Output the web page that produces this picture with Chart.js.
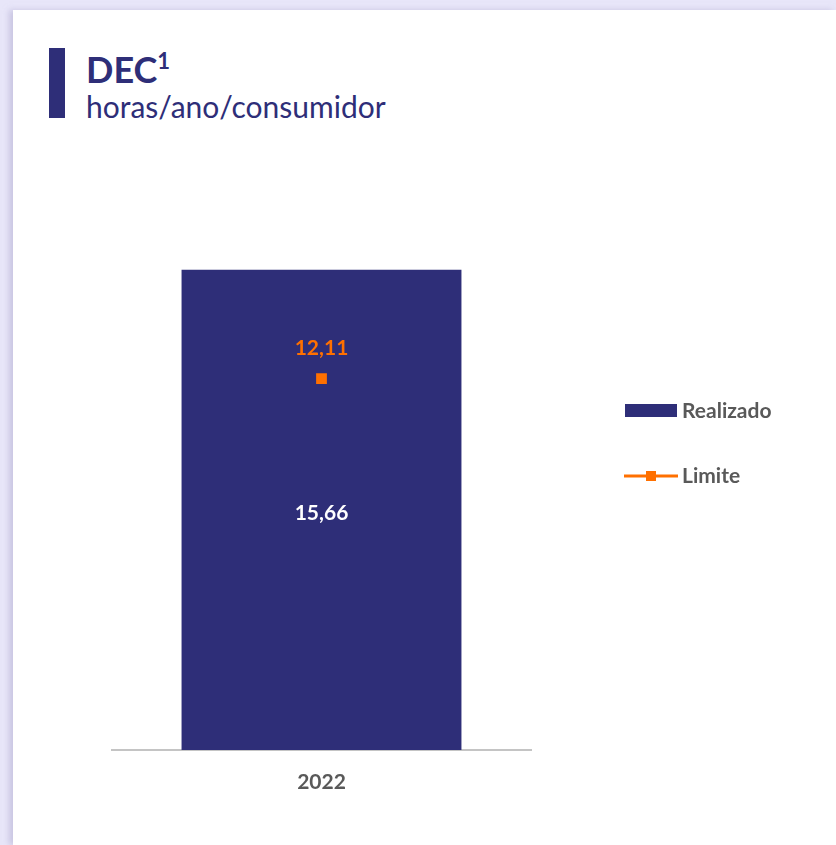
<!DOCTYPE html>
<html>
<head>
<meta charset="utf-8">
<script src="https://cdn.jsdelivr.net/npm/chart.js@4.4.0/dist/chart.umd.min.js"></script>
<style>
  html, body { margin: 0; padding: 0; }
  body { width: 836px; height: 845px; background: #e8e6f9; position: relative; overflow: hidden; font-family: Lato, sans-serif; }
  .card { position: absolute; left: 13px; top: 10px; right: 0; bottom: 0; background: #fff; box-shadow: -4px 0 6px rgba(180,175,210,0.6); }
  .barra { position: absolute; left: 49px; top: 48px; width: 16px; height: 70px; background: #2e2e78; }
  .titulo { position: absolute; left: 86px; top: 40px; font-size: 36px; font-weight: bold; color: #2e2e78; line-height: 44px; }
  .titulo sup { font-size: 22px; position: relative; top: -1px; }
  .sub { position: absolute; left: 86px; top: 88px; font-size: 30px; color: #2e2e78; }
  #grafico { position: absolute; left: 0; top: 0; }
</style>
</head>
<body>
<div class="card"></div>
<div class="barra"></div>
<div class="titulo">DEC<sup>1</sup></div>
<div class="sub">horas/ano/consumidor</div>
<canvas id="grafico" width="836" height="845"></canvas>
<script>
// Datos del gráfico
const anos = ['2022'];
const realizado = [15.66];
const limite = [12.11];

const azul = '#2e2e78';
const naranja = '#ff7000';
const gris = '#595959';

function fmt(v) {
    return v.toFixed(2).replace('.', ',');
}

// Etiquetas de valores y leyenda dibujadas a mano
const etiquetasPlugin = {
    id: 'etiquetas',
    afterDatasetsDraw(chart) {
        const ctx = chart.ctx;
        ctx.save();
        ctx.font = 'bold 21px Lato, sans-serif';
        ctx.textAlign = 'center';
        ctx.textBaseline = 'middle';

        // barra: valor en el centro
        chart.getDatasetMeta(0).data.forEach((bar, i) => {
            ctx.fillStyle = '#ffffff';
            ctx.fillText(fmt(realizado[i]), bar.x, (bar.y + bar.base) / 2 + 3);
        });
        // línea: valor encima del punto
        chart.getDatasetMeta(1).data.forEach((pt, i) => {
            ctx.fillStyle = naranja;
            ctx.fillText(fmt(limite[i]), pt.x, pt.y - 30);
        });

        // leyenda
        ctx.textAlign = 'left';
        ctx.fillStyle = azul;
        ctx.fillRect(625, 404, 52, 13);
        ctx.fillStyle = gris;
        ctx.fillText(chart.data.datasets[0].label, 682, 411);

        ctx.strokeStyle = naranja;
        ctx.lineWidth = 3;
        ctx.beginPath();
        ctx.moveTo(624, 476);
        ctx.lineTo(678, 476);
        ctx.stroke();
        ctx.fillStyle = naranja;
        ctx.fillRect(646, 471, 10, 10);
        ctx.fillStyle = gris;
        ctx.fillText(chart.data.datasets[1].label, 682, 476);
        ctx.restore();
    }
};

new Chart(document.getElementById('grafico'), {
    data: {
        labels: anos,
        datasets: [
            {
                type: 'bar',
                label: 'Realizado',
                data: realizado,
                backgroundColor: azul,
                barPercentage: 0.668,
                categoryPercentage: 1,
                order: 1
            },
            {
                type: 'line',
                label: 'Limite',
                data: limite,
                borderColor: naranja,
                backgroundColor: naranja,
                borderWidth: 3,
                pointStyle: 'rect',
                pointRadius: 5.5,
                order: 0
            }
        ]
    },
    options: {
        responsive: false,
        animation: false,
        layout: { padding: { left: 112, right: 305, top: 198, bottom: 0 } },
        plugins: {
            legend: { display: false },
            tooltip: { enabled: false }
        },
        scales: {
            x: {
                grid: { display: false, drawTicks: false },
                border: { color: '#c4c4c4', width: 2 },
                ticks: { color: gris, font: { family: 'Lato, sans-serif', size: 21, weight: 'bold' }, padding: 20 },
                afterFit(axis) { axis.height = 95; }
            },
            y: {
                display: false,
                min: 0,
                max: 18
            }
        }
    },
    plugins: [etiquetasPlugin]
});
</script>
</body>
</html>
